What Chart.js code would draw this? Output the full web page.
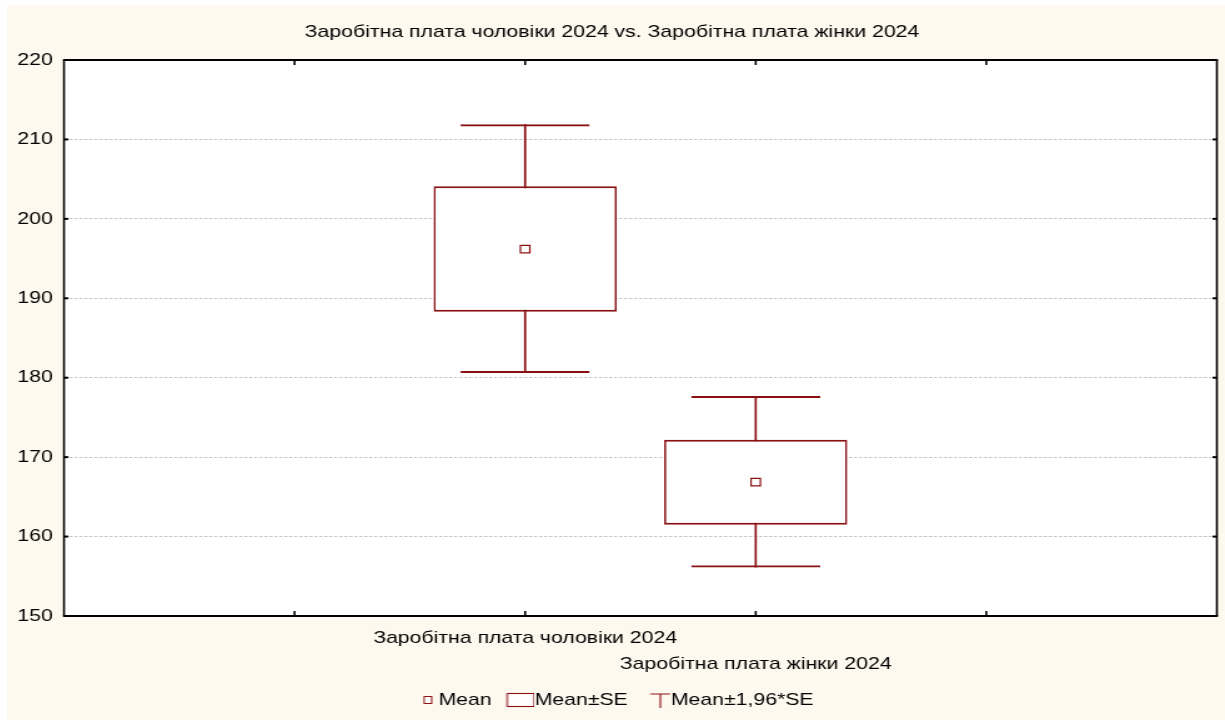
<!DOCTYPE html>
<html>
<head>
<meta charset="utf-8">
<script src="https://cdn.jsdelivr.net/npm/chart.js@4.4.0/dist/chart.umd.min.js"></script>
<style>
  body { margin: 0; background: #fff; }
  #wrap { position: absolute; left: 7px; top: 5px; width: 1218px; height: 715px; background: #fef9ee; }
  #chart { display: block; }
</style>
</head>
<body>
<div id="wrap"><canvas id="chart" width="975" height="715" style="width:1218px;height:715px"></canvas></div>
<script>
// the source picture is stretched horizontally, so the canvas is drawn narrow and stretched too
const categories = ["Заробітна плата чоловіки 2024", "Заробітна плата жінки 2024"];
const means = [196.2, 166.85];
const seLow = [188.3, 161.5];
const seHigh = [204.1, 172.2];
const ciLow = [180.6, 156.1];
const ciHigh = [211.9, 177.7];
const yMin = 150, yMax = 220, yStep = 10;
const titleText = "Заробітна плата чоловіки 2024 vs. Заробітна плата жінки 2024";
const legendNames = ["Mean", "Mean±SE", "Mean±1,96*SE"];

const red = "#8b1014";
const font = "Arial, 'Liberation Sans', sans-serif";
const pos = categories.map((c, i) => i + 2);   // two empty slots each side
const xMax = categories.length + 3;

const boxes = categories.map((c, i) => ({ x: pos[i], y: [seLow[i], seHigh[i]] }));
const caps = categories.map((c, i) => ({ x: pos[i], y: [ciLow[i], ciHigh[i]] }));
const stems = [];
categories.forEach((c, i) => {
  stems.push({ x: pos[i], y: ciLow[i] }, { x: pos[i], y: ciHigh[i] }, { x: pos[i], y: null });
});
const meanPts = categories.map((c, i) => ({ x: pos[i], y: means[i] }));

// legend icons, drawn right-aligned so they sit close to their text
function icon(draw) {
  const c = document.createElement("canvas");
  c.width = 31; c.height = 18;
  const g = c.getContext("2d");
  g.strokeStyle = red;
  g.fillStyle = "#fff";
  draw(g);
  return c;
}
const icons = [
  icon(g => { g.lineWidth = 1; g.fillRect(19.5, 5.5, 6, 7); g.strokeRect(19.5, 5.5, 6, 7); }),
  icon(g => { g.lineWidth = 1.1; g.fillRect(9, 2.5, 21.5, 13); g.strokeRect(9, 2.5, 21.5, 13); }),
  icon(g => {
    g.lineWidth = 1.2;
    g.beginPath();
    g.moveTo(14.5, 3); g.lineTo(30.5, 3);
    g.moveTo(22.5, 3); g.lineTo(22.5, 17);
    g.stroke();
  })
];

const framePlugin = {
  id: "frame",
  beforeDraw(chart) {
    const { ctx, chartArea: a } = chart;
    ctx.save();
    ctx.fillStyle = "#fff";
    ctx.fillRect(a.left, a.top, a.right - a.left, a.bottom - a.top);
    ctx.restore();
  },
  afterDraw(chart) {
    const { ctx, chartArea: a, scales: { x, y } } = chart;
    const line = (x1, y1, x2, y2) => { ctx.beginPath(); ctx.moveTo(x1, y1); ctx.lineTo(x2, y2); ctx.stroke(); };
    ctx.save();
    ctx.strokeStyle = "#000";
    ctx.lineWidth = 1.6;
    x.ticks.forEach(t => {
      if (t.value <= x.min || t.value >= x.max) return;
      const px = x.getPixelForValue(t.value);
      line(px, a.bottom, px, a.bottom - 5);
      line(px, a.top, px, a.top + 5);
    });
    ctx.lineWidth = 2;
    y.ticks.forEach(t => {
      if (t.value <= y.min || t.value >= y.max) return;
      const py = y.getPixelForValue(t.value);
      line(a.left, py, a.left + 3.5, py);
      line(a.right, py, a.right - 3.5, py);
    });
    ctx.lineWidth = 2;
    line(a.left - 0.8, a.top, a.right + 0.8, a.top);
    line(a.left - 0.8, a.bottom, a.right + 0.8, a.bottom);
    ctx.lineWidth = 1.6;
    line(a.left, a.top, a.left, a.bottom);
    line(a.right, a.top, a.right, a.bottom);
    ctx.restore();
  }
};

new Chart(document.getElementById("chart"), {
  type: "bar",
  data: {
    datasets: [
      {
        type: "scatter",
        data: meanPts,
        pointStyle: "rect",
        pointRadius: 5.3,
        pointBackgroundColor: "#fff",
        pointBorderColor: red,
        pointBorderWidth: 1.2,
        order: 0
      },
      {
        data: boxes,
        backgroundColor: "#fff",
        borderColor: red,
        borderWidth: { top: 2, bottom: 2, left: 1.7, right: 1.7 },
        borderSkipped: false,
        inflateAmount: 0,
        grouped: false,
        categoryPercentage: 1,
        barPercentage: 0.794,
        order: 1
      },
      {
        data: caps,
        backgroundColor: "rgba(0,0,0,0)",
        borderColor: red,
        borderWidth: { top: 2, bottom: 2, left: 0, right: 0 },
        borderSkipped: false,
        inflateAmount: 0,
        grouped: false,
        categoryPercentage: 1,
        barPercentage: 0.56,
        order: 2
      },
      {
        type: "line",
        data: stems,
        borderColor: red,
        borderWidth: 1.7,
        pointRadius: 0,
        spanGaps: false,
        order: 3
      }
    ]
  },
  options: {
    responsive: false,
    animation: false,
    events: [],
    layout: { padding: { top: 0, right: 6.4, bottom: 1.5, left: 0 } },
    plugins: {
      tooltip: { enabled: false },
      title: {
        display: true,
        text: titleText,
        color: "#000",
        font: { family: font, size: 17, weight: "normal", lineHeight: 1.2 },
        padding: { top: 17.5, bottom: 17.1 }
      },
      legend: {
        position: "bottom",
        onClick: null,
        labels: {
          usePointStyle: true,
          pointStyleWidth: 14,
          padding: 12,
          color: "#000",
          font: { family: font, size: 17 },
          generateLabels: () => legendNames.map((t, i) => ({
            text: t,
            pointStyle: icons[i],
            fillStyle: "#fff",
            strokeStyle: red,
            lineWidth: 0,
            hidden: false,
            fontColor: "#000"
          }))
        }
      }
    },
    scales: {
      x: {
        type: "linear",
        min: 0,
        max: xMax,
        offset: false,
        grid: { display: false },
        border: { display: false },
        afterFit: s => { s.height = 63.5; },
        ticks: {
          stepSize: 1,
          autoSkip: false,
          maxRotation: 0,
          minRotation: 0,
          padding: 1,
          color: "#000",
          font: { family: font, size: 17, lineHeight: 26 / 17 },
          callback: v => {
            const i = pos.indexOf(v);
            if (i < 0) return "";
            return i % 2 ? ["", categories[i]] : categories[i];
          }
        }
      },
      y: {
        min: yMin,
        max: yMax,
        beginAtZero: false,
        grid: { color: "#c4c4c4", lineWidth: 1, drawTicks: false },
        border: { display: false, dash: [2.5, 1.5] },
        afterFit: s => { s.width = 45.6; },
        ticks: {
          stepSize: yStep,
          padding: 9,
          color: "#000",
          font: { family: font, size: 17 }
        }
      }
    }
  },
  plugins: [framePlugin]
});
</script>
</body>
</html>
